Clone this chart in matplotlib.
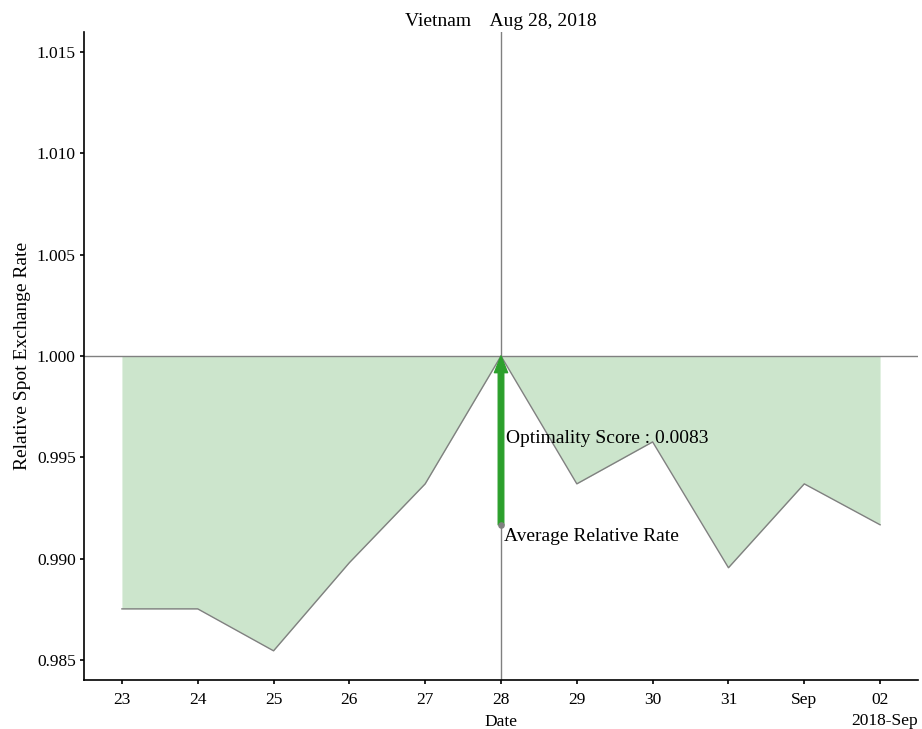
import numpy as np
import pandas as pd
import matplotlib
matplotlib.use('Agg')
import matplotlib.pyplot as plt
import matplotlib.dates as mdates

# Data
country = 'Vietnam'
best_day = '2018-08-28'
dates = ['2018-08-23', '2018-08-24', '2018-08-25', '2018-08-26', '2018-08-27', '2018-08-28',
         '2018-08-29', '2018-08-30', '2018-08-31', '2018-09-01', '2018-09-02']
rates = [0.98752, 0.98752, 0.98545, 0.98980, 0.99369, 1.00000,
         0.99369, 0.99576, 0.98955, 0.99369, 0.99167]

plt.rcParams['font.family'] = ['Liberation Serif', 'DejaVu Serif']
fs = 14
tick_fs = 12.5

x = pd.to_datetime(dates)
y = np.array(rates)
best = pd.Timestamp(best_day)
avg = y.mean()
score = 1.0 - avg

fig = plt.figure(figsize=(9.22, 7.29), dpi=100)
ax = fig.add_axes([84/922, 1 - 680/729, (918-84)/922, (680-32)/729])

# Shaded area between rate and 1.0
ax.fill_between(x, y, 1.0, color='green', alpha=0.2, linewidth=0)
ax.plot(x, y, color='gray', linewidth=1)

# Reference lines
ax.axhline(1.0, color='gray', linewidth=1)
ax.axvline(best, color='gray', linewidth=1)

# Arrow from average to 1.0
ax.annotate('', xy=(best, 1.0), xytext=(best, avg),
            arrowprops=dict(facecolor='#2ca02c', edgecolor='#2ca02c',
                            width=4, headwidth=9.5, headlength=12, shrink=0))
ax.scatter([best], [avg], color='gray', s=14, zorder=3)

ax.text(best + pd.Timedelta(hours=1.5), (1.0 + avg) / 2 + 0.0001,
        'Optimality Score : %.4f' % score, va='center', ha='left', fontsize=fs)
ax.text(best + pd.Timedelta(hours=1.0), avg - 0.00015, 'Average Relative Rate',
        va='top', ha='left', fontsize=fs)

ax.set_ylim(0.98401, 1.01599)
ax.set_yticks([0.985, 0.990, 0.995, 1.000, 1.005, 1.010, 1.015])
ax.yaxis.set_major_formatter(matplotlib.ticker.FormatStrFormatter('%.3f'))
ax.set_xlim(x[0] - pd.Timedelta(hours=12), x[-1] + pd.Timedelta(hours=12))

locator = mdates.DayLocator()
ax.xaxis.set_major_locator(locator)
ax.xaxis.set_major_formatter(mdates.ConciseDateFormatter(locator))
ax.xaxis.get_offset_text().set_fontsize(tick_fs)

for side in ['top', 'right']:
    ax.spines[side].set_visible(False)
for side in ['left', 'bottom']:
    ax.spines[side].set_linewidth(1.2)

ax.tick_params(axis='y', labelsize=tick_fs, length=3, width=1.2, pad=3)
ax.tick_params(axis='x', labelsize=tick_fs, length=3, width=1.2, pad=6)
ax.set_xlabel('Date', fontsize=tick_fs, labelpad=4)
ax.set_ylabel('Relative Spot Exchange Rate', fontsize=fs, labelpad=4)
ax.set_title('%s    %s' % (country, best.strftime('%b %d, %Y')), fontsize=fs, pad=4)

fig.savefig('out.png', dpi=100)
